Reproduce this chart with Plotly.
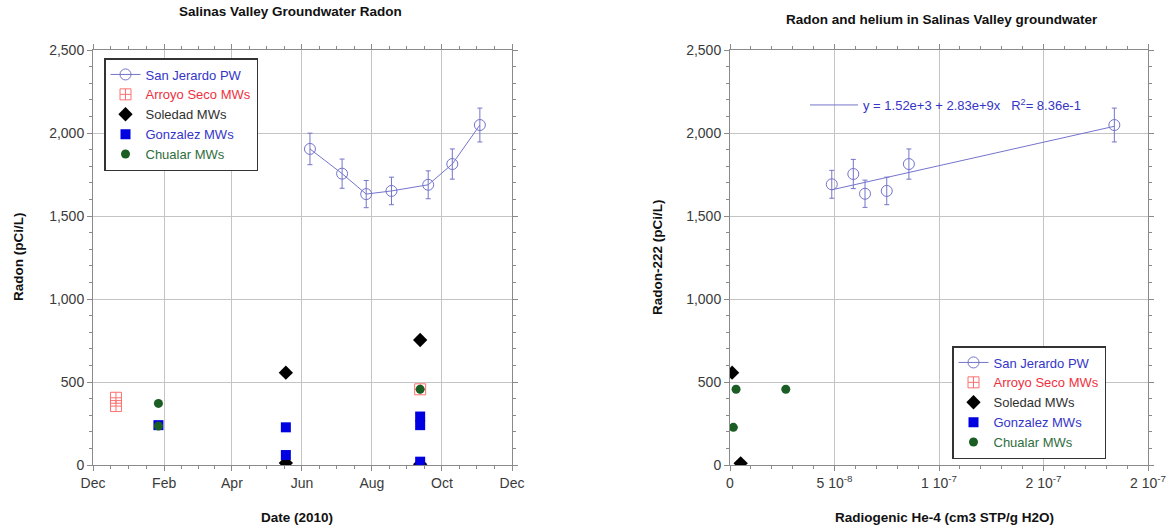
import plotly.graph_objects as go
import pandas as pd
import numpy as np

# ---------------- data ----------------
# Left panel: radon vs date
sj_dates = ["2010-06-08", "2010-07-06", "2010-07-27", "2010-08-18", "2010-09-19", "2010-10-10", "2010-11-03"]
sj_radon = [1904, 1755, 1632, 1651, 1688, 1813, 2048]
sj_err = [95, 88, 82, 83, 84, 91, 102]

arroyo_dates = ["2009-12-21", "2009-12-21", "2010-09-12"]
arroyo_radon = [405, 355, 456]

soledad_dates = ["2010-05-18", "2010-05-18", "2010-09-12", "2010-09-12"]
soledad_radon = [556, 12, 753, 5]

gonzalez_dates = ["2010-01-27", "2010-05-18", "2010-05-18", "2010-09-12", "2010-09-12", "2010-09-12"]
gonzalez_radon = [240, 227, 60, 292, 240, 20]

chualar_dates = ["2010-01-27", "2010-01-27", "2010-09-12"]
chualar_radon = [371, 235, 456]

# Right panel: radon vs radiogenic He-4
sj_he = [4.87e-8, 5.90e-8, 6.46e-8, 7.50e-8, 8.56e-8, 1.839e-7]
sj_rn = [1691, 1753, 1634, 1651, 1813, 2048]
sj_rn_err = [84, 88, 82, 83, 91, 102]

soledad_he = [1.0e-9, 5.1e-9]
soledad_rn = [556, 10]

chualar_he = [2.9e-9, 1.6e-9, 2.67e-8]
chualar_rn = [456, 227, 456]

fit_intercept = 1.52e3
fit_slope = 2.83e9
fit_label = "y = 1.52e+3 + 2.83e+9x   R<sup>2</sup>= 8.36e-1"

left_month_ticks = ["2009-12-01", "2010-02-01", "2010-04-01", "2010-06-01", "2010-08-01", "2010-10-01", "2010-12-01"]
left_month_labels = ["Dec", "Feb", "Apr", "Jun", "Aug", "Oct", "Dec"]
right_x_ticks = [0, 5e-8, 1e-7, 1.5e-7, 2e-7]
right_x_labels = ["0", "5 10<sup>-8</sup>", "1 10<sup>-7</sup>", "2 10<sup>-7</sup>", "2 10<sup>-7</sup>"]
y_ticks = [0, 500, 1000, 1500, 2000, 2500]

# ---------------- styles ----------------
FONT = "Liberation Sans, Arial, sans-serif"
SJ_COL = "#7474cc"
ARR_COL = "#ff6f6f"
SOL_COL = "#000000"
GON_COL = "#0000e0"
CHU_COL = "#1b5e24"

def lbl(text, color):
    return f"<span style='color:{color}'>{text}</span>"

fig = go.Figure()

# ---- left panel ----
fig.add_trace(go.Scatter(
    x=sj_dates, y=sj_radon, mode="lines+markers", name=lbl("San Jerardo PW", "#3535c8"),
    line=dict(color=SJ_COL, width=1),
    marker=dict(symbol="circle-open", size=11, color=SJ_COL, line=dict(width=1)),
    error_y=dict(type="data", array=sj_err, color=SJ_COL, thickness=1, width=2.5),
    xaxis="x", yaxis="y", legend="legend"))
fig.add_trace(go.Scatter(
    x=arroyo_dates, y=arroyo_radon, mode="markers", name=lbl("Arroyo Seco MWs", "#f03040"),
    marker=dict(symbol="square-cross-open", size=11, color=ARR_COL, line=dict(width=1)),
    xaxis="x", yaxis="y", legend="legend"))
fig.add_trace(go.Scatter(
    x=soledad_dates, y=soledad_radon, mode="markers", name=lbl("Soledad MWs", "#303030"),
    marker=dict(symbol="diamond", size=11, color=SOL_COL),
    xaxis="x", yaxis="y", legend="legend"))
fig.add_trace(go.Scatter(
    x=gonzalez_dates, y=gonzalez_radon, mode="markers", name=lbl("Gonzalez MWs", "#3535c8"),
    marker=dict(symbol="square", size=10, color=GON_COL),
    xaxis="x", yaxis="y", legend="legend"))
fig.add_trace(go.Scatter(
    x=chualar_dates, y=chualar_radon, mode="markers", name=lbl("Chualar MWs", "#2f6e3c"),
    marker=dict(symbol="circle", size=9, color=CHU_COL),
    xaxis="x", yaxis="y", legend="legend"))

# ---- right panel ----
fig.add_trace(go.Scatter(
    x=sj_he, y=sj_rn, mode="markers", name=lbl("San Jerardo PW", "#3535c8"),
    marker=dict(symbol="circle-open", size=11, color=SJ_COL, line=dict(width=1)),
    error_y=dict(type="data", array=sj_rn_err, color=SJ_COL, thickness=1, width=2.5),
    xaxis="x2", yaxis="y2", legend="legend3", showlegend=False))
# legend-only entries so the right legend lists every series like the left one
fig.add_trace(go.Scatter(
    x=[None], y=[None], mode="lines+markers", name=lbl("San Jerardo PW", "#3535c8"),
    line=dict(color=SJ_COL, width=1),
    marker=dict(symbol="circle-open", size=11, color=SJ_COL, line=dict(width=1)),
    xaxis="x2", yaxis="y2", legend="legend3"))
fig.add_trace(go.Scatter(
    x=[None], y=[None], mode="markers", name=lbl("Arroyo Seco MWs", "#f03040"),
    marker=dict(symbol="square-cross-open", size=11, color=ARR_COL, line=dict(width=1)),
    xaxis="x2", yaxis="y2", legend="legend3"))
fig.add_trace(go.Scatter(
    x=soledad_he, y=soledad_rn, mode="markers", name=lbl("Soledad MWs", "#303030"),
    marker=dict(symbol="diamond", size=11, color=SOL_COL),
    xaxis="x2", yaxis="y2", legend="legend3"))
fig.add_trace(go.Scatter(
    x=[None], y=[None], mode="markers", name=lbl("Gonzalez MWs", "#3535c8"),
    marker=dict(symbol="square", size=10, color=GON_COL),
    xaxis="x2", yaxis="y2", legend="legend3"))
fig.add_trace(go.Scatter(
    x=chualar_he, y=chualar_rn, mode="markers", name=lbl("Chualar MWs", "#2f6e3c"),
    marker=dict(symbol="circle", size=9, color=CHU_COL),
    xaxis="x2", yaxis="y2", legend="legend3"))

fx = np.array([min(sj_he), max(sj_he)])
fig.add_trace(go.Scatter(
    x=fx, y=fit_intercept + fit_slope * fx, mode="lines", name=lbl(fit_label, "#3535c8"),
    line=dict(color=SJ_COL, width=1),
    xaxis="x2", yaxis="y2", legend="legend2"))

# ---------------- axes ----------------
W, H = 1174, 529
def px_x(p): return p / W
def px_y(p): return (H - p) / H

# minor ticks for the date axis: 3 between each pair of major ticks
minor_dates = []
mt = pd.to_datetime(left_month_ticks)
for a, b in zip(mt[:-1], mt[1:]):
    for k in range(1, 4):
        minor_dates.append((a + (b - a) * k / 4).strftime("%Y-%m-%d %H:%M"))

axis_common = dict(
    showline=True, linecolor="#8a8a8a", linewidth=1, mirror="allticks",
    ticks="outside", ticklen=5, tickcolor="#8a8a8a", tickwidth=1,
    showgrid=True, gridcolor="#c4c4c4", gridwidth=1, zeroline=False,
    tickfont=dict(family=FONT, size=14, color="#3a3a3a"), automargin=False,
)

ydom = [px_y(465), px_y(50)]

fig.update_layout(
    width=W, height=H,
    margin=dict(l=0, r=0, t=0, b=0, autoexpand=False),
    paper_bgcolor="white", plot_bgcolor="white",
    font=dict(family=FONT, size=12),
    xaxis=dict(domain=[px_x(93), px_x(512)], type="date",
               range=["2009-12-01", "2010-12-01"],
               tickmode="array", tickvals=left_month_ticks, ticktext=left_month_labels,
               minor=dict(tickmode="array", tickvals=minor_dates, ticks="outside", ticklen=3,
                          tickcolor="#8a8a8a", showgrid=False),
               anchor="y", **axis_common),
    yaxis=dict(domain=ydom, range=[0, 2500], tickmode="array", tickvals=y_ticks,
               tickformat=",d", minor=dict(dtick=100, ticks="outside", ticklen=3,
                                          tickcolor="#8a8a8a", showgrid=False),
               anchor="x", **axis_common),
    xaxis2=dict(domain=[px_x(730), px_x(1148)], range=[0, 2e-7],
                tickmode="array", tickvals=right_x_ticks, ticktext=right_x_labels,
                minor=dict(dtick=1e-8, tick0=0, ticks="outside", ticklen=3,
                           tickcolor="#8a8a8a", showgrid=False),
                anchor="y2", **axis_common),
    yaxis2=dict(domain=ydom, range=[0, 2500], tickmode="array", tickvals=y_ticks,
                tickformat=",d", minor=dict(dtick=100, ticks="outside", ticklen=3,
                                           tickcolor="#8a8a8a", showgrid=False),
                anchor="x2", **axis_common),
    legend=dict(x=px_x(104), y=px_y(58), xanchor="left", yanchor="top",
                bgcolor="white", bordercolor="#333333", borderwidth=1.5,
                font=dict(family=FONT, size=13), tracegroupgap=0, itemwidth=30),
    legend3=dict(x=px_x(952), y=px_y(346), xanchor="left", yanchor="top",
                 bgcolor="white", bordercolor="#333333", borderwidth=1.5,
                 font=dict(family=FONT, size=13), tracegroupgap=0, itemwidth=30),
    legend2=dict(x=px_x(805), y=px_y(90), xanchor="left", yanchor="top",
                 bgcolor="rgba(0,0,0,0)", borderwidth=0,
                 font=dict(family=FONT, size=13), itemwidth=48),
    showlegend=True,
)

ann_font_title = dict(family=FONT, size=13.5, color="#111111")
fig.add_annotation(text="<b>Salinas Valley Groundwater Radon</b>", x=px_x(290), y=px_y(12),
                   xref="paper", yref="paper", showarrow=False, font=ann_font_title,
                   xanchor="center", yanchor="middle")
fig.add_annotation(text="<b>Radon and helium in Salinas Valley groundwater</b>", x=px_x(942), y=px_y(19),
                   xref="paper", yref="paper", showarrow=False, font=ann_font_title,
                   xanchor="center", yanchor="middle")
fig.add_annotation(text="<b>Date (2010)</b>", x=px_x(297), y=px_y(517),
                   xref="paper", yref="paper", showarrow=False, font=ann_font_title,
                   xanchor="center", yanchor="middle")
fig.add_annotation(text="<b>Radiogenic He-4 (cm3 STP/g H2O)</b>", x=px_x(944), y=px_y(517),
                   xref="paper", yref="paper", showarrow=False, font=ann_font_title,
                   xanchor="center", yanchor="middle")
fig.add_annotation(text="<b>Radon (pCi/L)</b>", x=px_x(18), y=px_y(257), textangle=-90,
                   xref="paper", yref="paper", showarrow=False, font=ann_font_title,
                   xanchor="center", yanchor="middle")
fig.add_annotation(text="<b>Radon-222 (pCi/L)</b>", x=px_x(657), y=px_y(257), textangle=-90,
                   xref="paper", yref="paper", showarrow=False, font=ann_font_title,
                   xanchor="center", yanchor="middle")

fig.write_html("out.html")
